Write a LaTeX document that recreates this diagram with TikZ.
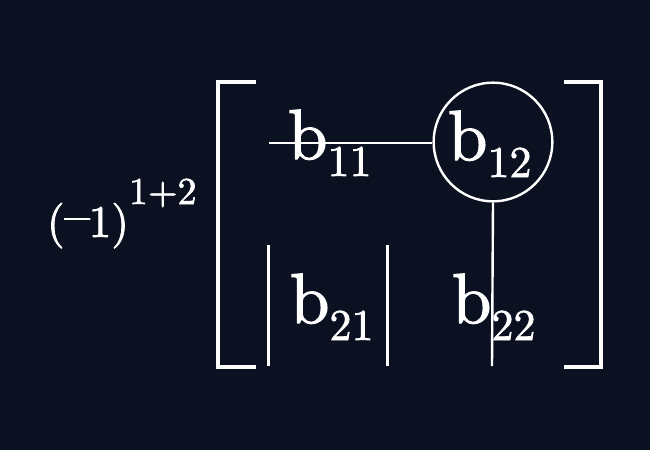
\documentclass[tikz,border=0pt]{standalone}
\usepackage{fontspec}
\usepackage{graphicx}
\setmainfont{lmroman10-regular.otf}[FakeBold=1.6]
\definecolor{bg}{RGB}{11,17,33}
\newcommand{\mainsz}{\fontsize{53.25pt}{60pt}\selectfont}
\newcommand{\subsz}{\fontsize{33pt}{38pt}\selectfont}
\newcommand{\sgnsz}{\fontsize{34pt}{40pt}\selectfont}
\newcommand{\expsz}{\fontsize{28.5pt}{34pt}\selectfont}
\newcommand{\elem}[2]{\mainsz #1\raisebox{-12.75pt}{\subsz #2}}
\begin{document}
\begin{tikzpicture}[x=0.75pt,y=-0.75pt,
  lbl/.style={text=white, inner sep=0pt, outer sep=0pt, anchor=base west},
  bracketline/.style={draw=white, line width=3pt},
  barline/.style={draw=white, line width=2.25pt},
  connector/.style={draw=white, line width=1.8pt},
  ringnode/.style={circle, draw=white, line width=1.8pt, minimum size=89pt, inner sep=0pt}]
\fill[bg] (0,0) rectangle (650,450);
\useasboundingbox (0,0) rectangle (650,450);
% sign factor
\node[lbl] (sign) at (47,237) {\sgnsz(\raisebox{4.5pt}{\scalebox{1.12}[1]{–}}\kern-1pt1)\raisebox{24.75pt}{\expsz 1+2}};
% brackets
\draw[bracketline] (256,82) -- (218,82) -- (218,367) -- (256,367);
\draw[bracketline] (564,82) -- (601,82) -- (601,367) -- (564,367);
% determinant bars
\draw[barline] (268,245) -- (268,366);
\draw[barline] (387,245) -- (387,366);
% circle
\node[ringnode] (ring) at (493,142) {};
% elements
\node[lbl] (b11) at (288,159) {\elem{b}{11}};
\node[lbl] (b12) at (448,160) {\elem{b}{12}};
\node[lbl] (b21) at (290,323) {\elem{b}{21}};
\node[lbl] (b22) at (452,323) {\elem{b}{22}};
% connectors
\coordinate (hstart) at (269,143);
\coordinate (vend) at (492,366);
\draw[connector] (hstart) -- (hstart -| ring.west);
\draw[connector] (ring.south) -- (vend);
\end{tikzpicture}
\end{document}
